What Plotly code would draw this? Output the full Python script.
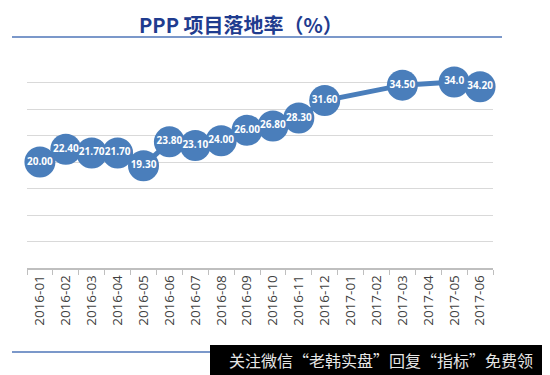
import plotly.graph_objects as go

categories = ["2016-01", "2016-02", "2016-03", "2016-04", "2016-05", "2016-06",
              "2016-07", "2016-08", "2016-09", "2016-10", "2016-11", "2016-12",
              "2017-01", "2017-02", "2017-03", "2017-04", "2017-05", "2017-06"]
values = [20.00, 22.40, 21.70, 21.70, 19.30, 23.80, 23.10, 24.00, 26.00, 26.80,
          28.30, 31.60, None, None, 34.50, None, 35.10, 34.20]
labels = ["20.00", "22.40", "21.70", "21.70", "19.30", "23.80", "23.10", "24.00",
          "26.00", "26.80", "28.30", "31.60", "", "", "34.50", "", "34.0", "34.20"]

title_text = "PPP 项目落地率（%）"
watermark = "关注微信“老韩实盘”回复“指标”免费领"

blue = "#4A7EBB"

fig = go.Figure()
fig.add_trace(go.Scatter(
    x=categories, y=values, mode="lines+markers+text",
    connectgaps=True,
    line=dict(color=blue, width=5),
    marker=dict(size=31, color=blue),
    text=["<b>" + t + "</b>" if t else "" for t in labels],
    textposition="middle center",
    textfont=dict(color="white", size=10, family="Open Sans"),
    cliponaxis=False, hoverinfo="skip",
))

OFF = 8  # page body margin
W, H = 550 - OFF, 375 - OFF
# plot area in reference pixels: x 27..493, y 56..268
L, T = 27 - OFF, 56 - OFF
R = W - (493 - OFF)
B = H - (268 - OFF)
pw, ph = W - L - R, H - T - B

def px(x):
    return (x - OFF - L) / pw

def py(y):
    return (H - B - (y - OFF)) / ph

fig.update_layout(
    width=W, height=H,
    margin=dict(l=L, r=R, t=T, b=B, autoexpand=False),
    paper_bgcolor="white", plot_bgcolor="white",
    showlegend=False,
    xaxis=dict(type="category", range=[-0.5, 17.5], tickangle=-90, showline=True,
               linecolor="#BFBFBF", linewidth=1.5, ticks="outside", ticklen=5,
               tickcolor="#BFBFBF", tickson="boundaries", showgrid=False,
               automargin=False, fixedrange=True,
               tickfont=dict(family="Open Sans", size=13.5, color="#404040")),
    yaxis=dict(range=[0, 40], dtick=5, showticklabels=False, showgrid=True,
               gridcolor="#D9D9D9", gridwidth=1, zeroline=False, fixedrange=True,
               automargin=False),
    shapes=[
        dict(type="line", xref="paper", yref="paper", x0=px(12), x1=px(502),
             y0=py(37), y1=py(37), line=dict(color="#4F76B8", width=1.5)),
        dict(type="line", xref="paper", yref="paper", x0=px(12), x1=px(550),
             y0=py(352), y1=py(352), line=dict(color="#4F76B8", width=1.5)),
        dict(type="rect", xref="paper", yref="paper", x0=px(210), x1=px(551),
             y0=py(345), y1=py(376), fillcolor="black", line=dict(width=0),
             layer="above"),
    ],
    annotations=[
        dict(text="<b>" + title_text + "</b>", xref="paper", yref="paper",
             x=px(241), y=py(OFF), xanchor="center", yanchor="top",
             showarrow=False,
             font=dict(family="Noto Sans CJK SC", size=20, color="#1F3C8F")),
        dict(text=watermark, xref="paper", yref="paper", x=px(381), y=py(360),
             xanchor="center", yanchor="middle", showarrow=False,
             font=dict(family="Noto Sans CJK SC", size=16, color="#E6E6E6")),
    ],
)

fig.write_html("out.html")
